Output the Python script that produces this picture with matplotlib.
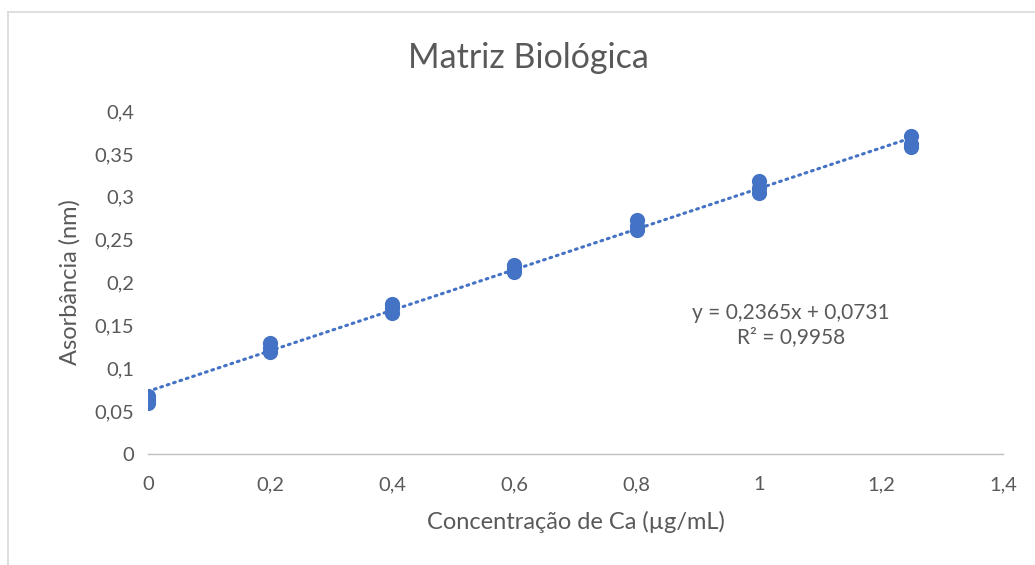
import matplotlib.pyplot as plt
import numpy as np
from matplotlib.lines import Line2D

plt.rcParams['font.family'] = ['Lato', 'DejaVu Sans']

# concentrations (µg/mL) and absorbance readings
conc = [0, 0, 0, 0.2, 0.2, 0.2, 0.4, 0.4, 0.4, 0.6, 0.6, 0.6,
        0.8, 0.8, 0.8, 1.0, 1.0, 1.0, 1.25, 1.25, 1.25]
absorb = [0.068, 0.060, 0.063, 0.129, 0.119, 0.124, 0.175, 0.164, 0.170,
          0.220, 0.212, 0.216, 0.273, 0.261, 0.266, 0.318, 0.304, 0.310,
          0.371, 0.358, 0.362]
slope, intercept = 0.2365, 0.0731
xticks = [0, 0.2, 0.4, 0.6, 0.8, 1.0, 1.2, 1.4]
yticks = [0, 0.05, 0.1, 0.15, 0.2, 0.25, 0.3, 0.35, 0.4]

blue = '#4472C4'
grey = '#595959'

fig = plt.figure(figsize=(10.35, 5.65), dpi=100)
ax = fig.add_axes([148 / 1035, 1 - 454 / 565, (1003 - 148) / 1035, (454 - 111) / 565])

ax.scatter(conc, absorb, s=120, color=blue, zorder=3, linewidths=0)
xf = np.array([0, 1.25])
ax.plot(xf, slope * xf + intercept, color=blue, lw=2.2, ls=(0, (0.6, 1.6)),
        dash_capstyle='round', zorder=2)

ax.set_xlim(0, 1.4)
ax.set_ylim(0, 0.4)
ax.set_xticks(xticks)
ax.set_yticks(yticks)
ax.set_xticklabels([f'{t:g}'.replace('.', ',') for t in xticks])
ax.set_yticklabels([f'{t:g}'.replace('.', ',') for t in yticks])
ax.tick_params(length=0, labelsize=14.5, colors=grey, pad=10)
ax.tick_params(axis='x', pad=16)
for s in ['top', 'right', 'left']:
    ax.spines[s].set_visible(False)
ax.spines['bottom'].set_color('#BFBFBF')
ax.spines['bottom'].set_linewidth(1)

ax.set_xlabel('Concentração de Ca (µg/mL)', fontsize=17, color=grey, labelpad=13)
ax.set_ylabel('Asorbância (nm)', fontsize=17, color=grey, labelpad=10)
fig.text(528 / 1035, 1 - 58 / 565, 'Matriz Biológica', fontsize=24.5, color=grey,
         ha='center', va='center')

eq = f'y = {slope:.4f}x + {intercept:.4f}'.replace('.', ',')
ax.text(791 / 1035, 1 - 325 / 565, eq + '\nR² = 0,9958', transform=fig.transFigure,
        fontsize=15, color=grey, ha='center', va='center', linespacing=1.25)

# chart area border (left and top visible)
fig.add_artist(Line2D([8 / 1035, 8 / 1035], [0, 1 - 12 / 565], color='#D9D9D9', lw=1.2,
                      transform=fig.transFigure))
fig.add_artist(Line2D([8 / 1035, 1], [1 - 12 / 565, 1 - 12 / 565], color='#D9D9D9', lw=1.2,
                      transform=fig.transFigure))

fig.savefig('out.png', dpi=100)
